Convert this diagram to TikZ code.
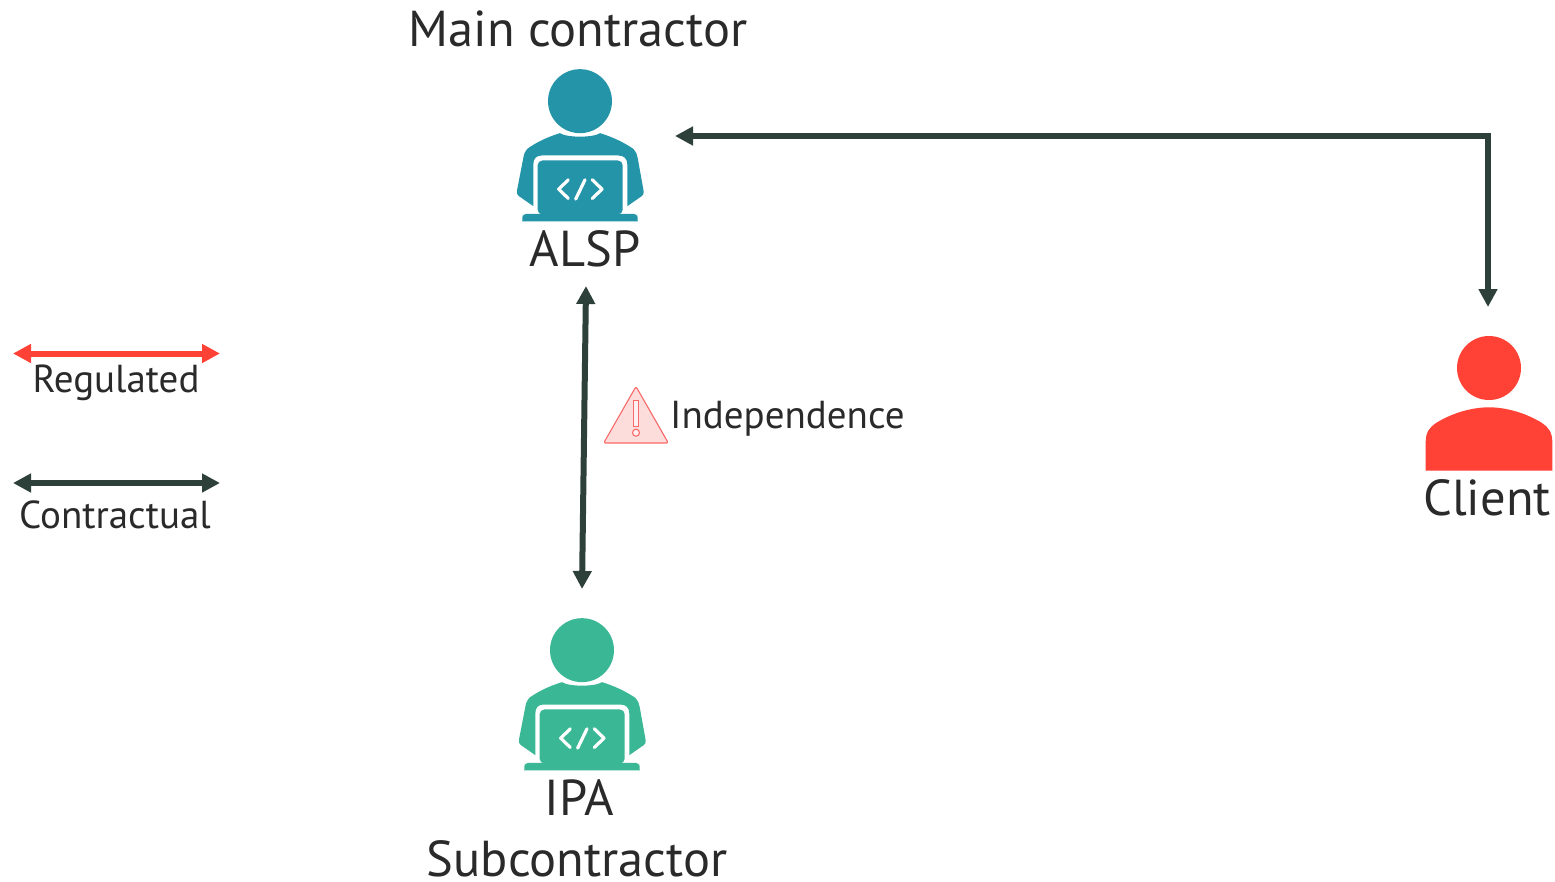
\documentclass[tikz,border=0pt]{standalone}
\usepackage{fontspec}
\setmainfont{PT Sans}
\usetikzlibrary{arrows.meta}
\definecolor{teal1}{HTML}{2494A8}
\definecolor{green1}{HTML}{3AB795}
\definecolor{red1}{HTML}{FF4136}
\definecolor{dark1}{HTML}{2E403A}
\definecolor{ink}{HTML}{2A2A2A}
\definecolor{warnfill}{HTML}{FDDCDC}
\definecolor{warnline}{HTML}{F86A6A}
\tikzset{
  big/.style={text=ink,inner sep=0pt,font=\fontsize{50.5}{56}\selectfont},
  small/.style={text=ink,inner sep=0pt,font=\fontsize{39}{44}\selectfont},
  conntwo/.style={draw=dark1,line width=6pt,{Triangle[length=18pt,width=18pt]}-{Triangle[length=18pt,width=18pt]}},
  connred/.style={draw=red1,line width=6pt,{Triangle[length=18pt,width=18pt]}-{Triangle[length=18pt,width=18pt]}}
}
\newcommand{\coderperson}[3]{%
\begin{scope}[shift={(#2,#3)},x=0.3333pt,y=-0.3333pt]
  \fill[#1] (240,122) circle (96);
  \fill[#1] (180,218) .. controls (200,232) and (280,232) .. (300,218)
    .. controls (340,230) and (375,248) .. (400,265)
    .. controls (408,272) and (411,282) .. (413,292)
    -- (431,392) .. controls (432,400) and (430,403) .. (425,407)
    -- (382,437) -- (382,312) .. controls (382,295) and (372,285) .. (355,285)
    -- (125,285) .. controls (108,285) and (100,295) .. (100,312)
    -- (100,437) -- (57,407) .. controls (51,403) and (49,398) .. (51,390)
    -- (70,292) .. controls (72,280) and (75,272) .. (82,265)
    .. controls (105,248) and (140,230) .. (180,218) -- cycle;
  \fill[#1,rounded corners=4.7pt] (113,462) -- (113,300) -- (368,300) -- (368,462) -- cycle;
  \fill[#1,rounded corners=4pt] (67,460) -- (413,460) -- (413,472) .. controls (413,480) and (408,483) .. (400,483) -- (80,483) .. controls (72,483) and (67,480) .. (67,472) -- cycle;
  \draw[white,line width=3.2pt,line cap=round,line join=round] (205,358) -- (176,386) -- (205,414);
  \draw[white,line width=3.2pt,line cap=round,line join=round] (277,358) -- (306,386) -- (277,414);
  \draw[white,line width=3.2pt,line cap=round] (255,358) -- (227,416);
\end{scope}}
\begin{document}
\begin{tikzpicture}[x=1pt,y=-1pt]
\useasboundingbox (0,0) rectangle (1555,881);
\fill[white] (0,0) rectangle (1555,881);
\coderperson{teal1}{500}{60.5}
\coderperson{green1}{502}{609.5}
% client
\fill[red1] (1489,368) circle (32);
\fill[red1] (1425.7,470.7) -- (1425.7,441.7) .. controls (1425.7,432) and (1430,427) .. (1436,423)
  .. controls (1452,413) and (1472,407.3) .. (1489,407.3)
  .. controls (1506,407.3) and (1526,413) .. (1542,423)
  .. controls (1548,427) and (1552.3,432) .. (1552.3,441.7) -- (1552.3,470.7) -- cycle;
% warning
\draw[warnline,fill=warnfill,line width=1.1pt,line join=round,rounded corners=2pt]
  (636,386.5) -- (668.3,443) -- (603.7,443) -- cycle;
\draw[warnline,fill=warnfill!40!white,line width=1.1pt] (633.3,400.3) rectangle (638.7,426.3);
\draw[warnline,fill=warnfill!40!white,line width=1.1pt] (636,432.7) circle (3.5);
% labels
\node[big] (main) at (578,28.5) {Main contractor};
\node[big] (alsp) at (585,249) {ALSP};
\node[big] (ipa) at (579,798) {IPA};
\node[big] (sub) at (577,859) {Subcontractor};
\node[big] (client) at (1487,498) {Client};
\node[small] (reg) at (116,383) {Regulated};
\node[small] (con) at (115,515) {Contractual};
\node[small,anchor=west] (ind) at (670,419) {Independence};
% connector ends
\coordinate (a1) at (675,136);
\coordinate (a2) at (1488,307);
\coordinate (b1) at (586,286);
\coordinate (b2) at (582,589);
\coordinate (r1) at (13,353.5);
\coordinate (r2) at (220,353.5);
\coordinate (c1) at (13,483);
\coordinate (c2) at (220,483);
\draw[conntwo] (a1) -- (1488,136) -- (a2);
\draw[conntwo] (b1) -- (b2);
\draw[connred] (r1) -- (r2);
\draw[conntwo] (c1) -- (c2);
\end{tikzpicture}
\end{document}
